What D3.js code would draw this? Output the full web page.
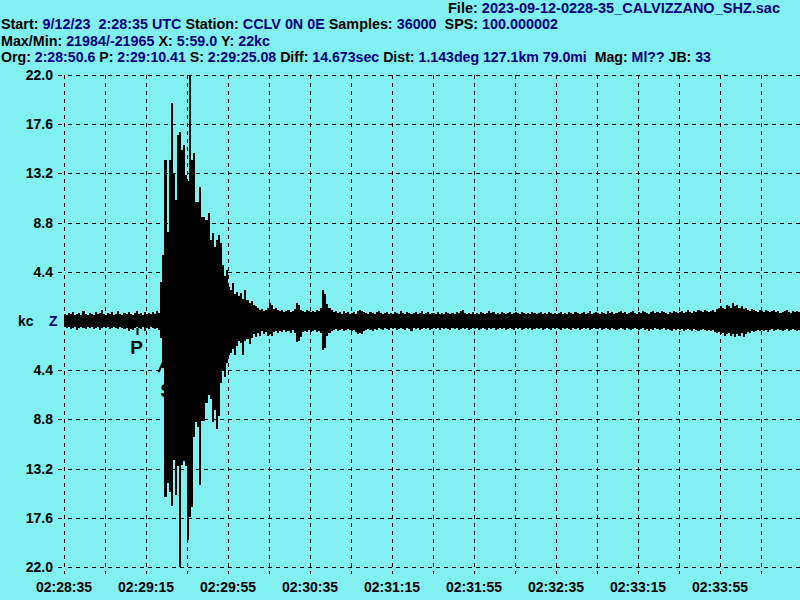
<!DOCTYPE html>
<html><head><meta charset="utf-8">
<script src="https://cdn.jsdelivr.net/npm/d3@7"></script>
<style>html,body{margin:0;padding:0;background:#80f0f0;} svg{display:block}</style>
</head><body><svg id="c" width="800" height="600"></svg>
<script>
// ---- data ----
const spanSec = 359; // X: 5:59.0
const yTickValues = [22, 17.6, 13.2, 8.8, 4.4, -4.4, -8.8, -13.2, -17.6, -22];
const yTickLabels = ["22.0","17.6","13.2","8.8","4.4","4.4","8.8","13.2","17.6","22.0"];
const xTickSeconds = [0, 40, 80, 120, 160, 200, 240, 280, 320];
const xTickLabels = ["02:28:35","02:29:15","02:29:55","02:30:35","02:31:15","02:31:55","02:32:35","02:33:15","02:33:55"];
const gridSeconds = [0,20,40,60,80,100,120,140,160,180,200,220,240,260,280,300,320,340];
const picks = [{label:"P", sec:35.41}, {label:"S", sec:50.08}];
// per-second max / min of the trace (kc)
const upperKc = [
0.6,0.5,0.7,0.6,0.8,0.5,0.6,0.7,0.5,0.9,0.6,0.5,0.7,0.6,0.5,0.8,0.6,0.7,1.0,0.6,
0.5,0.7,0.6,0.8,0.5,0.6,0.9,0.6,0.5,0.7,0.6,0.8,0.6,0.5,0.7,0.9,0.6,0.7,0.5,0.8,
0.6,0.7,0.6,0.8,0.6,0.9,0.7,3.5,5.9,14.4,8.0,14.4,19.5,13.2,10.8,16.6,16.9,15.3,15.7,13.1,
12.5,22.0,14.4,15.0,10.6,10.6,12.0,9.3,9.3,9.0,9.7,7.2,7.9,6.6,7.2,7.7,7.0,5.0,4.0,4.6,
3.0,2.8,3.4,2.4,2.6,2.2,2.5,2.0,2.8,1.9,1.6,1.8,1.4,1.3,1.2,1.0,1.1,0.9,1.0,1.2,
1.6,1.4,1.1,1.2,1.0,0.9,1.0,0.8,0.9,1.0,0.8,0.9,1.1,1.6,1.4,1.0,0.9,0.8,1.0,0.9,
0.8,0.9,0.8,1.0,0.9,1.2,2.8,2.4,1.5,1.2,1.0,0.8,0.9,0.7,0.8,0.6,0.9,0.7,0.8,0.6,
0.7,0.8,0.6,0.9,1.0,0.9,0.8,0.7,0.6,0.8,0.7,0.6,0.8,0.9,0.7,0.6,0.7,0.8,0.6,0.7,
0.6,0.8,0.7,0.6,0.9,0.7,0.6,0.8,0.7,0.6,0.7,0.8,0.6,0.7,0.9,0.6,0.7,0.8,0.6,0.7,
0.7,0.6,0.8,0.6,0.7,0.6,0.8,0.7,0.6,0.7,0.6,0.8,0.7,0.9,1.0,0.7,0.6,0.7,0.6,0.8,
0.6,0.7,0.6,0.8,0.7,0.6,0.7,0.9,0.7,0.8,0.6,0.7,0.6,0.8,0.7,0.6,0.7,0.8,0.6,0.7,
0.8,0.7,0.6,0.8,0.7,0.6,0.7,0.6,0.8,0.7,0.6,0.7,0.8,0.6,0.7,0.6,0.8,0.7,0.6,0.7,
0.6,0.7,0.8,0.6,0.7,0.6,0.8,0.7,0.6,0.8,0.7,0.6,0.7,0.8,0.6,0.7,0.9,0.6,0.7,0.8,
0.7,0.6,0.8,0.7,0.6,0.9,0.7,0.8,0.6,0.7,0.8,0.9,0.7,0.8,0.6,0.7,0.8,0.9,0.7,0.6,
0.8,0.7,0.9,0.8,0.7,0.6,0.8,0.9,0.7,0.8,0.7,0.9,0.8,0.7,0.6,0.8,0.7,0.9,0.8,0.7,
0.8,0.9,0.7,0.8,1.0,0.8,0.7,0.9,0.8,1.0,0.9,0.8,1.0,0.9,0.8,0.9,1.0,0.8,1.1,1.2,
1.3,1.2,1.1,1.4,1.3,1.2,1.6,1.3,1.4,1.2,1.3,1.1,1.2,1.0,0.9,1.1,1.0,0.9,0.8,1.0,
0.9,0.8,1.0,0.9,0.8,0.9,1.0,0.8,0.9,0.7,0.8,0.9,1.0,0.8,0.7,0.9,0.8,0.9,0.8];
const lowerKc = [
-0.5,-0.6,-0.5,-0.7,-0.6,-0.5,-0.8,-0.6,-0.5,-0.6,-0.7,-0.5,-0.6,-0.5,-0.7,-0.6,-0.5,-0.8,-0.6,-0.5,
-0.6,-0.5,-0.7,-0.6,-0.5,-0.6,-0.7,-0.5,-0.6,-0.7,-0.6,-0.9,-0.7,-0.8,-0.6,-0.5,-0.6,-0.7,-0.5,-0.9,
-0.6,-0.7,-0.5,-0.6,-0.7,-0.6,-0.8,-1.5,-4.2,-15.7,-14.5,-15.3,-16.5,-12.4,-15.6,-13.0,-22.0,-12.9,-12.5,-13.0,
-19.6,-17.5,-16.6,-10.4,-9.0,-9.5,-14.7,-8.9,-8.9,-7.3,-6.6,-7.0,-9.0,-8.0,-9.7,-8.5,-5.5,-4.5,-5.0,-3.8,
-3.0,-2.9,-2.5,-3.0,-2.2,-1.8,-2.0,-3.0,-1.8,-1.6,-2.1,-1.5,-1.2,-1.4,-1.1,-1.3,-0.9,-1.2,-1.0,-1.3,
-1.2,-1.3,-1.0,-0.9,-1.1,-0.9,-1.0,-0.8,-1.0,-0.9,-1.1,-0.8,-1.1,-1.9,-1.8,-1.4,-1.0,-0.9,-1.0,-0.8,
-1.0,-0.9,-0.8,-1.0,-0.9,-1.1,-2.6,-2.4,-1.3,-1.1,-0.9,-0.8,-0.7,-0.9,-0.8,-0.7,-0.9,-0.8,-0.7,-0.8,
-0.9,-0.8,-1.0,-1.2,-1.1,-1.2,-0.9,-0.8,-0.7,-0.8,-0.9,-0.7,-0.8,-0.6,-0.7,-0.8,-0.6,-0.7,-0.8,-0.6,
-0.7,-0.6,-0.8,-0.7,-0.6,-0.7,-0.8,-0.6,-0.7,-0.9,-0.6,-0.7,-0.6,-0.8,-0.7,-0.6,-0.7,-0.6,-0.8,-0.7,
-0.6,-0.7,-0.6,-0.8,-0.6,-0.7,-0.6,-0.7,-0.8,-0.6,-0.7,-0.6,-0.8,-0.7,-0.6,-0.7,-0.6,-0.8,-0.7,-0.6,
-0.7,-0.6,-0.8,-0.7,-0.6,-0.7,-0.8,-0.6,-0.7,-0.6,-0.8,-0.7,-0.6,-0.7,-0.6,-0.8,-0.7,-0.6,-0.7,-0.8,
-0.6,-0.7,-0.6,-0.8,-0.7,-0.6,-0.7,-0.6,-0.8,-0.7,-0.6,-0.7,-0.6,-0.8,-0.7,-0.6,-0.7,-0.8,-0.6,-0.7,
-0.6,-0.7,-0.8,-0.6,-0.7,-0.6,-0.7,-0.8,-0.6,-0.7,-0.6,-0.8,-0.7,-0.6,-0.7,-0.6,-0.8,-0.7,-0.6,-0.7,
-0.7,-0.6,-0.8,-0.7,-0.6,-0.7,-0.8,-0.6,-0.7,-0.8,-0.7,-0.6,-0.7,-0.8,-0.6,-0.7,-0.8,-0.7,-0.6,-0.7,
-0.8,-0.7,-0.6,-0.8,-0.7,-0.9,-0.7,-0.8,-0.6,-0.7,-0.8,-0.7,-0.6,-0.8,-0.7,-0.8,-0.9,-0.7,-0.8,-0.7,
-0.8,-0.7,-0.9,-0.8,-0.7,-0.8,-0.9,-0.7,-0.8,-0.9,-0.8,-0.7,-0.8,-0.9,-0.8,-0.9,-0.8,-1.0,-1.1,-1.0,
-1.2,-1.1,-1.3,-1.2,-1.1,-1.3,-1.2,-1.4,-1.2,-1.3,-1.1,-1.4,-1.2,-1.0,-1.1,-0.9,-1.0,-0.9,-0.8,-0.9,
-0.8,-0.9,-0.8,-1.0,-0.8,-0.7,-0.9,-0.8,-0.7,-0.8,-0.9,-0.8,-0.7,-0.9,-0.8,-0.7,-0.8,-0.9,-0.8];
// header text: [text, isValue]
const header1 = [["File: ",0],["2023-09-12-0228-35_CALVIZZANO_SHZ.sac",1]];
const header2 = [["Start: ",0],["9/12/23\u00a0\u00a02:28:35 UTC",1],[" Station: ",0],["CCLV 0N 0E",1],[" Samples: ",0],["36000",1],["\u00a0\u00a0SPS: ",0],["100.000002",1]];
const header3 = [["Max/Min: ",0],["21984/-21965",1],[" X: ",0],["5:59.0",1],[" Y: ",0],["22kc",1]];
const header4 = [["Org: ",0],["2:28:50.6",1],[" P: ",0],["2:29:10.41",1],[" S: ",0],["2:29:25.08",1],[" Diff: ",0],["14.673sec",1],[" Dist: ",0],["1.143deg 127.1km 79.0mi",1],["\u00a0\u00a0Mag: ",0],["Ml??",1],[" JB: ",0],["33",1]];

// ---- drawing ----
const svg = d3.select("#c");
const NAVY = "#000080";
const FONT = "'Liberation Sans', Arial, sans-serif";
svg.append("rect").attr("width",800).attr("height",600).attr("fill","#80f0f0");

const x = d3.scaleLinear().domain([0, spanSec]).range([64, 800]);
const y = d3.scaleLinear().domain([-22, 22]).range([567, 75]);

// headers
function headerLine(parts, x0, yb, len) {
  const t = svg.append("text").attr("x", x0).attr("y", yb)
    .attr("font-family", FONT).attr("font-size", 14).attr("font-weight", "bold")
    .attr("textLength", len).attr("lengthAdjust", "spacingAndGlyphs");
  parts.forEach(p => t.append("tspan").attr("fill", p[1] ? NAVY : "#000").text(p[0]));
}
headerLine(header1, 448, 13, 332);
headerLine(header2, 1, 29, 557);
headerLine(header3, 1, 46, 269);
headerLine(header4, 1, 62, 710);

// grid
const grid = svg.append("g").attr("stroke", "#000").attr("stroke-width", 1).attr("shape-rendering", "crispEdges");
grid.selectAll("line.h").data(yTickValues).join("line").attr("class","h")
  .attr("x1", 64).attr("x2", 800).attr("y1", d => Math.round(y(d)) + 0.5).attr("y2", d => Math.round(y(d)) + 0.5)
  .attr("stroke-dasharray", "4,4").attr("stroke-dashoffset", 4);
grid.selectAll("line.t").data(yTickValues).join("line").attr("class","t")
  .attr("x1", 58).attr("x2", 62).attr("y1", d => Math.round(y(d)) + 0.5).attr("y2", d => Math.round(y(d)) + 0.5);
grid.selectAll("line.v").data(gridSeconds).join("line").attr("class","v")
  .attr("x1", d => Math.round(x(d)) + 0.5).attr("x2", d => Math.round(x(d)) + 0.5)
  .attr("y1", 75).attr("y2", 574).attr("stroke-dasharray", "4,4");

// y labels
svg.append("g").selectAll("text").data(yTickValues).join("text")
  .attr("x", 53).attr("y", d => y(d) + 5).attr("text-anchor", "end")
  .attr("font-family", FONT).attr("font-size", 14).attr("font-weight", "bold").attr("fill", "#000")
  .text((d, i) => yTickLabels[i]);
svg.append("text").attr("x", 18).attr("y", y(0) + 5).attr("font-family", FONT).attr("font-size", 14)
  .attr("font-weight", "bold").attr("fill", "#000").text("kc");
svg.append("text").attr("x", 49).attr("y", y(0) + 5).attr("font-family", FONT).attr("font-size", 14)
  .attr("font-weight", "bold").attr("fill", NAVY).text("Z");

// x labels
svg.append("g").selectAll("text").data(xTickSeconds).join("text")
  .attr("x", d => x(d)).attr("y", 592).attr("text-anchor", "middle")
  .attr("font-family", FONT).attr("font-size", 14).attr("font-weight", "bold").attr("fill", "#000")
  .text((d, i) => xTickLabels[i]);

// phase picks
const pk = svg.append("g");
pk.append("line").attr("x1", Math.round(x(picks[0].sec)) + 0.5).attr("x2", Math.round(x(picks[0].sec)) + 0.5)
  .attr("y1", y(0) + 7).attr("y2", y(0) + 14).attr("stroke", "#000").attr("stroke-width", 2);
pk.append("text").attr("x", x(picks[0].sec)).attr("y", y(0) + 33).attr("text-anchor", "middle")
  .attr("font-family", FONT).attr("font-size", 19).attr("font-weight", "bold").text(picks[0].label);
pk.append("line").attr("x1", x(picks[1].sec) - 4).attr("x2", x(picks[1].sec) - 8)
  .attr("y1", y(0) + 42).attr("y2", y(0) + 51).attr("stroke", "#000").attr("stroke-width", 2);
pk.append("text").attr("x", x(picks[1].sec)).attr("y", y(0) + 76).attr("text-anchor", "middle")
  .attr("font-family", FONT).attr("font-size", 19).attr("font-weight", "bold").text(picks[1].label);

// trace (per-second max/min columns)
svg.append("g").attr("shape-rendering", "crispEdges").selectAll("rect").data(upperKc).join("rect")
  .attr("x", (d, i) => x(i)).attr("width", (d, i) => x(i + 1) - x(i))
  .attr("y", d => y(d)).attr("height", (d, i) => y(lowerKc[i]) - y(d))
  .attr("fill", "#000");
</script></body></html>
